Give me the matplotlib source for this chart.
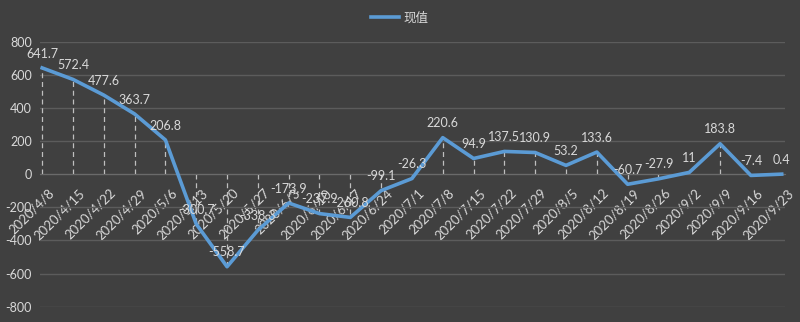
import matplotlib.pyplot as plt
import matplotlib.transforms as mtransforms

plt.rcParams['font.family'] = ['Lato', 'Noto Sans CJK SC', 'DejaVu Sans']

# 周度数据
dates = ['2020/4/8', '2020/4/15', '2020/4/22', '2020/4/29', '2020/5/6',
         '2020/5/13', '2020/5/20', '2020/5/27', '2020/6/3', '2020/6/10',
         '2020/6/17', '2020/6/24', '2020/7/1', '2020/7/8', '2020/7/15',
         '2020/7/22', '2020/7/29', '2020/8/5', '2020/8/12', '2020/8/19',
         '2020/8/26', '2020/9/2', '2020/9/9', '2020/9/16', '2020/9/23']
values = [641.7, 572.4, 477.6, 363.7, 206.8,
          -300.7, -558.7, -338.3, -173.9, -237.9,
          -260.8, -99.1, -26.3, 220.6, 94.9,
          137.5, 130.9, 53.2, 133.6, -60.7,
          -27.9, 11, 183.8, -7.4, 0.4]
yticks = [-800, -600, -400, -200, 0, 200, 400, 600, 800]

bg = '#404040'
txt = '#d9d9d9'
blue = '#5b9bd5'

fig = plt.figure(figsize=(8, 3.22), dpi=100, facecolor=bg)
ax = fig.add_axes([0.05, 0.0475, 0.931, 0.823], facecolor=bg)

# 横轴放在0处 (先设置, 否则会重置刻度标签)
for s in ['top', 'right', 'left']:
    ax.spines[s].set_visible(False)
ax.spines['bottom'].set_position(('data', 0))
ax.spines['bottom'].set_color('#6a6a6a')

x = list(range(len(values)))

# 垂线: 从0到各点
ax.vlines(x, 0, values, colors='#bfbfbf', linestyles=(0, (4, 3)), linewidth=0.9, zorder=2)
ax.plot(x, values, color=blue, linewidth=2.6, label='现值', zorder=3,
        solid_joinstyle='round')

for xi, v in zip(x, values):
    lab = f'{v:g}'
    ax.annotate(lab, (xi, v), xytext=(0, 6), textcoords='offset points',
                ha='center', va='bottom', color=txt, fontsize=9, zorder=4)

ax.set_ylim(-800, 800)
ax.set_xlim(-0.07, 24.1)
ax.set_yticks(yticks)
ax.set_yticklabels([str(t) for t in yticks])
ax.yaxis.grid(True, color='#5c5c5c', linewidth=1)
ax.set_axisbelow(True)

ax.set_xticks(x)
ax.set_xticklabels(dates, rotation=45, ha='right', rotation_mode='anchor')
ax.tick_params(axis='x', length=0, pad=9, colors=txt, labelsize=9.5)
ax.tick_params(axis='y', length=0, pad=6, colors=txt, labelsize=9)

# 日期标签稍向右移
shift = mtransforms.ScaledTranslation(4 / 72, 0, fig.dpi_scale_trans)
for lbl in ax.get_xticklabels():
    lbl.set_transform(lbl.get_transform() + shift)

leg = fig.legend(loc='upper center', bbox_to_anchor=(0.5, 1.0), frameon=False,
                 fontsize=9, handlelength=2.2, handletextpad=0.4)
for t in leg.get_texts():
    t.set_color(txt)

fig.savefig('out.png', dpi=100, facecolor=bg)
